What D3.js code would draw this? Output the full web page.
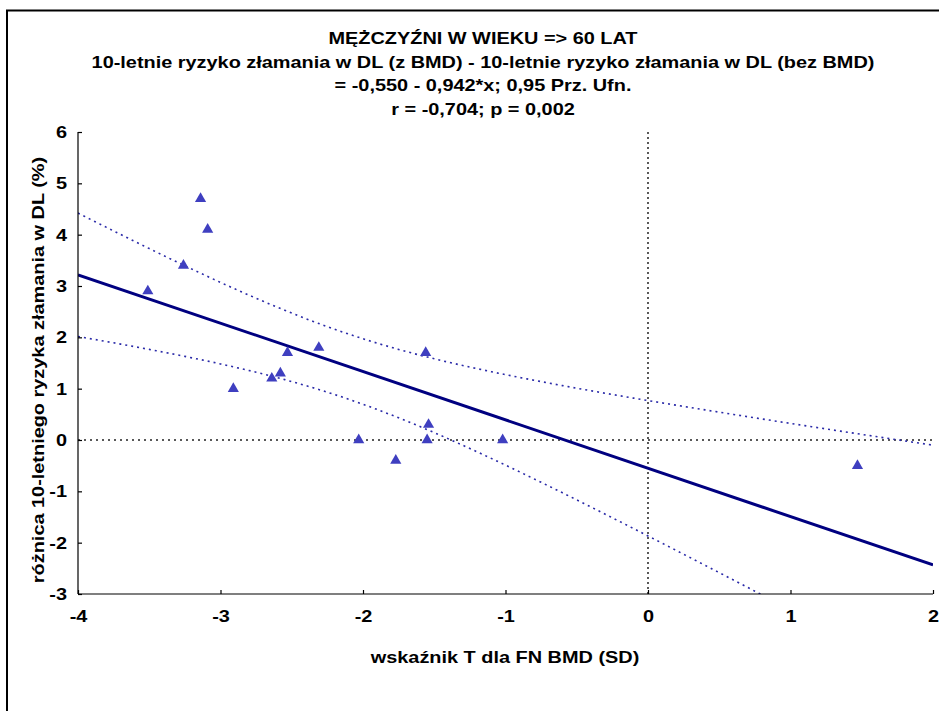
<!DOCTYPE html>
<html>
<head>
<meta charset="utf-8">
<script src="https://cdn.jsdelivr.net/npm/d3@7"></script>
<style>
  body { margin: 0; background: #fff; }
  svg text { font-family: "Liberation Sans", Arial, sans-serif; font-weight: 700; fill: #000; font-size: 17px; }
</style>
</head>
<body>
<svg id="chart"></svg>
<script>
// Title lines
const titleLines = [
  "MĘŻCZYŹNI W WIEKU => 60 LAT",
  "10-letnie ryzyko złamania w DL (z BMD) - 10-letnie ryzyko złamania w DL (bez BMD)",
  "= -0,550 - 0,942*x; 0,95 Prz. Ufn.",
  "r = -0,704; p = 0,002"
];
const xAxisTitle = "wskaźnik T dla FN BMD (SD)";
const yAxisTitle = "różnica 10-letniego ryzyka złamania w DL (%)";

const tScores = [-3.51, -3.14, -3.09, -3.26, -2.91, -2.64, -2.58, -2.53, -2.31, -2.03, -1.56, -1.54, -1.55, -1.77, -1.02, 1.47];
const riskDiff = [2.9, 4.7, 4.1, 3.4, 1.0, 1.2, 1.3, 1.7, 1.8, 0.0, 1.7, 0.3, 0.0, -0.4, 0.0, -0.5];

// Fit from the title
const intercept = -0.55;
const slope = -0.942;
const tCrit = 2.145; // t(0.975, 14)

const xTicks = [-4, -3, -2, -1, 0, 1, 2];
const yTicks = [-3, -2, -1, 0, 1, 2, 3, 4, 5, 6];

const width = 939, height = 711;
const margin = { top: 132, right: 6, bottom: 117, left: 78 };
const stretch = 1.17; // the original text is drawn a little wide

const svg = d3.select("#chart").attr("width", width).attr("height", height);

// outer frame (runs off the right and bottom edge)
svg.append("rect")
  .attr("x", 7).attr("y", 10.5)
  .attr("width", 1000).attr("height", 800)
  .attr("fill", "none").attr("stroke", "#000").attr("stroke-width", 2);

const x = d3.scaleLinear().domain([-4, 2]).range([margin.left, width - margin.right]);
const y = d3.scaleLinear().domain([-3, 6]).range([height - margin.bottom, margin.top]);

// titles
svg.append("g").selectAll("text")
  .data(titleLines)
  .enter().append("text")
  .attr("transform", (d, i) => `translate(483,${44 + i * 23.5}) scale(${stretch},1)`)
  .attr("text-anchor", "middle")
  .text(d => d);

// clip for lines inside the plot
svg.append("clipPath").attr("id", "plot-clip")
  .append("rect")
  .attr("x", x(-4)).attr("y", y(6))
  .attr("width", x(2) - x(-4)).attr("height", y(-3) - y(6));

const plot = svg.append("g").attr("clip-path", "url(#plot-clip)");

// zero reference lines
plot.append("line")
  .attr("x1", x(-4)).attr("x2", x(2)).attr("y1", y(0)).attr("y2", y(0))
  .attr("stroke", "#222").attr("stroke-width", 1.5).attr("stroke-dasharray", "2,4");
plot.append("line")
  .attr("x1", x(0)).attr("x2", x(0)).attr("y1", y(6)).attr("y2", y(-3))
  .attr("stroke", "#222").attr("stroke-width", 1.5).attr("stroke-dasharray", "2,3");

// confidence band from residuals
const n = tScores.length;
const meanX = d3.mean(tScores);
const sxx = d3.sum(tScores, v => (v - meanX) ** 2);
const sse = d3.sum(tScores, (v, i) => (riskDiff[i] - (intercept + slope * v)) ** 2);
const s = Math.sqrt(sse / (n - 2));
const grid = d3.range(-4, 2.001, 0.05);
const half = v => tCrit * s * Math.sqrt(1 / n + (v - meanX) ** 2 / sxx);

const line = d3.line().x(d => x(d[0])).y(d => y(d[1]));

plot.append("path")
  .datum(grid.map(v => [v, intercept + slope * v + half(v)]))
  .attr("d", line)
  .attr("fill", "none").attr("stroke", "#2a2aa8").attr("stroke-width", 1.6)
  .attr("stroke-dasharray", "2,4");
plot.append("path")
  .datum(grid.map(v => [v, intercept + slope * v - half(v)]))
  .attr("d", line)
  .attr("fill", "none").attr("stroke", "#2a2aa8").attr("stroke-width", 1.6)
  .attr("stroke-dasharray", "2,4");

// regression line
plot.append("path")
  .datum([[-4, intercept + slope * -4], [2, intercept + slope * 2]])
  .attr("d", line)
  .attr("fill", "none").attr("stroke", "#000080").attr("stroke-width", 3);

// points
svg.append("g").selectAll("path")
  .data(tScores)
  .enter().append("path")
  .attr("d", d3.symbol().type(d3.symbolTriangle).size(54))
  .attr("transform", (d, i) => `translate(${x(d)},${y(riskDiff[i])})`)
  .attr("fill", "#3f3fc0");

// axes
const xAxis = d3.axisBottom(x).tickValues(xTicks).tickSize(-4).tickPadding(16)
  .tickFormat(d => String(d));
const yAxis = d3.axisLeft(y).tickValues(yTicks).tickSize(-4).tickPadding(11)
  .tickFormat(d => String(d));

const xAxisG = svg.append("g").attr("class", "axis")
  .attr("transform", `translate(0,${y(-3)})`).call(xAxis);
const yAxisG = svg.append("g").attr("class", "axis")
  .attr("transform", `translate(${x(-4)},0)`).call(yAxis);
[xAxisG, yAxisG].forEach(g => {
  g.attr("font-family", null).attr("font-size", null);
  g.select(".domain").attr("stroke", "#000").attr("stroke-width", 1.2);
  g.selectAll(".tick line").attr("stroke", "#000").attr("stroke-width", 1.2);
  g.selectAll(".tick text").attr("fill", "#000")
    .each(function () {
      const t = d3.select(this);
      const tx = +t.attr("x") || 0;
      const ty = +t.attr("y") || 0;
      t.attr("x", null).attr("y", null)
        .attr("transform", `translate(${tx},${ty}) scale(${stretch},1)`);
    });
});
xAxisG.select(".domain").attr("d", `M${x(-4)},0H${x(2)}`);
yAxisG.select(".domain").attr("d", `M0,${y(6)}V${y(-3)}`);

// axis titles
svg.append("text")
  .attr("transform", `translate(505,663) scale(${stretch},1)`)
  .attr("text-anchor", "middle")
  .text(xAxisTitle);
svg.append("text")
  .attr("transform", `translate(44,370) rotate(-90) scale(${stretch},1)`)
  .attr("text-anchor", "middle")
  .text(yAxisTitle);
</script>
</body>
</html>
